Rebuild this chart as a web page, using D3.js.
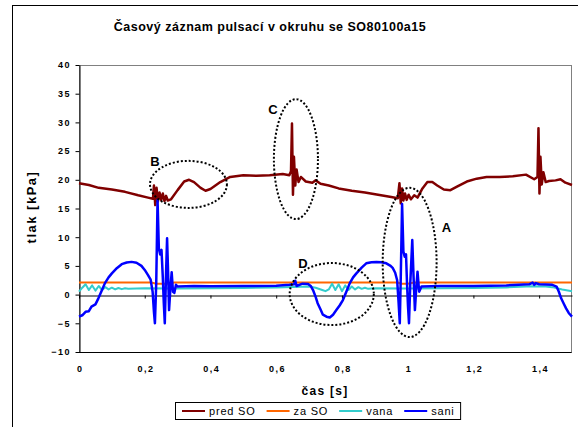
<!DOCTYPE html>
<html>
<head>
<meta charset="utf-8">
<script src="https://cdn.jsdelivr.net/npm/d3@7"></script>
<style>
  body { margin: 0; background: #fff; }
  text { font-family: Arial, "Liberation Sans", sans-serif; }
</style>
</head>
<body>
<div id="chart"></div>
<script>
// Time series (time in s, pressure in kPa)
const predT = [0, 0.03, 0.06, 0.1, 0.14, 0.18, 0.21, 0.225, 0.228, 0.232, 0.236, 0.24, 0.245, 0.25, 0.255, 0.26, 0.265, 0.27, 0.28, 0.3, 0.32, 0.335, 0.35, 0.37, 0.385, 0.4, 0.43, 0.46, 0.5, 0.54, 0.58, 0.62, 0.64, 0.645, 0.648, 0.651, 0.654, 0.658, 0.662, 0.668, 0.675, 0.69, 0.71, 0.72, 0.735, 0.76, 0.79, 0.83, 0.87, 0.91, 0.95, 0.97, 0.975, 0.979, 0.983, 0.987, 0.992, 0.997, 1.003, 1.01, 1.02, 1.03, 1.045, 1.06, 1.075, 1.09, 1.11, 1.13, 1.15, 1.18, 1.21, 1.24, 1.28, 1.32, 1.36, 1.385, 1.395, 1.398, 1.401, 1.404, 1.408, 1.413, 1.42, 1.43, 1.45, 1.465, 1.48, 1.5];
const predV = [19.4, 19.1, 18.6, 18.3, 17.9, 17.3, 16.9, 16.7, 19.0, 15.6, 18.6, 16.2, 17.8, 16.5, 17.6, 16.3, 17.2, 16.4, 16.6, 18.2, 19.7, 20.0, 19.6, 18.6, 18.1, 18.4, 19.6, 20.5, 20.8, 20.7, 20.8, 21.0, 20.8, 21.5, 29.8, 17.4, 24.0, 19.0, 21.8, 19.6, 20.5, 19.7, 19.5, 19.9, 19.3, 19.0, 18.5, 18.1, 17.8, 17.4, 17.0, 16.8, 19.4, 15.9, 18.5, 16.4, 17.6, 16.5, 17.4, 16.6, 17.3, 16.9, 18.5, 19.6, 19.6, 19.0, 18.3, 18.2, 18.8, 19.7, 20.2, 20.5, 20.5, 20.6, 20.9, 20.1, 20.5, 29.0, 17.6, 24.0, 19.2, 21.3, 19.6, 19.8, 19.9, 20.1, 19.5, 19.1];

const zaT = [0, 0.22, 0.235, 0.27, 0.29, 0.97, 0.98, 1.0, 1.02, 1.5];
const zaV = [2.1, 2.1, 1.9, 1.9, 2.1, 2.1, 1.9, 1.9, 2.1, 2.1];

const vanaT = [0, 0.01, 0.02, 0.03, 0.04, 0.05, 0.06, 0.07, 0.08, 0.09, 0.1, 0.11, 0.12, 0.13, 0.14, 0.15, 0.2, 0.3, 0.4, 0.5, 0.6, 0.7, 0.72, 0.74, 0.75, 0.76, 0.77, 0.78, 0.79, 0.8, 0.81, 0.82, 0.83, 0.84, 0.85, 0.86, 0.87, 0.88, 0.9, 1.0, 1.1, 1.2, 1.3, 1.38, 1.42, 1.44, 1.47, 1.5];
const vanaV = [0.5, 1.2, 1.8, 0.8, 1.6, 0.7, 1.5, 0.8, 1.3, 0.9, 1.2, 0.9, 1.15, 0.95, 1.1, 1.0, 1.1, 1.05, 1.1, 1.15, 1.25, 1.4, 1.2, 0.8, 0.6, 0.9, 1.9, 0.8, 1.8, 0.6, 1.6, 0.8, 1.4, 0.9, 1.3, 1.0, 1.2, 1.0, 1.1, 1.05, 1.1, 1.15, 1.25, 1.45, 1.4, 1.3, 0.9, 0.6];

const saniT = [0, 0.01, 0.02, 0.03, 0.038, 0.05, 0.059, 0.07, 0.079, 0.09, 0.1, 0.115, 0.13, 0.145, 0.16, 0.175, 0.19, 0.2, 0.21, 0.218, 0.224, 0.228, 0.231, 0.235, 0.239, 0.243, 0.247, 0.251, 0.255, 0.258, 0.261, 0.265, 0.268, 0.271, 0.274, 0.278, 0.282, 0.286, 0.29, 0.295, 0.3, 0.35, 0.4, 0.5, 0.6, 0.64, 0.655, 0.658, 0.662, 0.68, 0.697, 0.705, 0.712, 0.72, 0.726, 0.735, 0.742, 0.753, 0.763, 0.773, 0.783, 0.793, 0.803, 0.814, 0.824, 0.834, 0.844, 0.86, 0.874, 0.89, 0.905, 0.92, 0.935, 0.948, 0.955, 0.962, 0.968, 0.972, 0.976, 0.979, 0.983, 0.987, 0.991, 0.995, 0.998, 1.001, 1.004, 1.008, 1.014, 1.018, 1.022, 1.026, 1.03, 1.035, 1.042, 1.1, 1.2, 1.3, 1.37, 1.38, 1.385, 1.39, 1.4, 1.44, 1.453, 1.46, 1.467, 1.475, 1.482, 1.49, 1.5];
const saniV = [-3.85, -3.6, -3.0, -2.9, -2.1, -1.7, -0.65, 0.8, 2.0, 3.0, 3.7, 4.6, 5.3, 5.6, 5.7, 5.55, 5.0, 4.3, 3.4, 2.6, 0.5, -3.0, -5.0, 2.0, 16.5, 8.0, 7.0, 7.8, 3.0, -1.5, -5.0, 4.0, 9.8, 4.0, -2.7, 1.0, 3.9, 0.5, 0.3, 1.7, 1.4, 1.5, 1.45, 1.5, 1.55, 1.7, 1.8, 2.4, 1.5, 1.9, 1.85, 1.5, 0.8, -0.4, -1.5, -2.6, -3.5, -3.85, -4.0, -3.5, -2.7, -1.9, -0.95, 0.6, 2.0, 3.0, 3.7, 4.7, 5.45, 5.65, 5.7, 5.65, 5.45, 5.0, 4.6, 3.8, 2.5, -1.0, -5.0, 3.0, 15.8, 7.5, 6.6, 7.0, 2.0, -2.0, -5.0, 2.0, 9.5, 3.0, -2.7, 1.0, 4.0, 0.5, 1.4, 1.5, 1.5, 1.6, 1.8, 2.1, 1.7, 2.0, 1.8, 1.7, 1.4, 0.5, -0.65, -1.6, -2.4, -3.2, -3.85];

const seriesNames = ["pred SO", "za SO", "vana", "sani"];
const seriesColors = ["#800000", "#FF6600", "#33CCCC", "#0000FF"];
const xTicks = [0, 0.2, 0.4, 0.6, 0.8, 1, 1.2, 1.4];
const yTicks = [-10, -5, 0, 5, 10, 15, 20, 25, 30, 35, 40];

// Annotations: label, centre (t, kPa), radii (s, kPa), label position
const noteLabels = ["B", "C", "A", "D"];
const noteCenters = [[0.333, 19.2], [0.66, 23.6], [1.006, 5.6], [0.769, 0.1]];
const noteRadii = [[0.117, 4.1], [0.067, 10.45], [0.082, 13.0], [0.128, 5.4]];
const noteTextPos = [[0.231, 23.3], [0.59, 32.3], [1.118, 11.8], [0.681, 5.5]];

const W = 578, H = 427;
const margin = {top: 65, right: 6, bottom: 75, left: 79};
const width = W - margin.left - margin.right;
const height = H - margin.top - margin.bottom;

const svg = d3.select("#chart")
    .append("svg")
    .attr("width", W)
    .attr("height", H);

// Outer chart border
svg.append("rect")
    .attr("x", 12.5).attr("y", 5.5)
    .attr("width", 700).attr("height", 600)
    .attr("fill", "none")
    .attr("stroke", "#000");

// Title
svg.append("text")
    .attr("x", 270)
    .attr("y", 31)
    .attr("text-anchor", "middle")
    .style("font-size", "12.5px")
    .style("font-weight", "bold")
    .style("letter-spacing", "0.5px")
    .text("Časový záznam pulsací v okruhu se SO80100a15");

const g = svg.append("g")
    .attr("transform", "translate(" + margin.left + "," + margin.top + ")");

const x = d3.scaleLinear().domain([0, 1.5]).range([0, width]);
const y = d3.scaleLinear().domain([-10, 40]).range([height, 0]);

// Plot area frame
g.append("rect")
    .attr("x", 0.5).attr("y", 0.5)
    .attr("width", width - 1).attr("height", height)
    .attr("fill", "none")
    .attr("stroke", "#808080");
g.append("line")
    .attr("x1", 0).attr("x2", width - 0.5)
    .attr("y1", height + 0.5).attr("y2", height + 0.5)
    .attr("stroke", "#000");

// Y axis
const yAxis = g.append("g")
    .attr("transform", "translate(0.5,0)")
    .call(d3.axisLeft(y).tickValues(yTicks).tickSize(4).tickSizeOuter(0).tickPadding(6));
yAxis.select(".domain").attr("stroke", "#000");
yAxis.selectAll("text")
    .style("font-size", "9px")
    .style("font-weight", "bold")
    .style("letter-spacing", "1.5px")
    .attr("dx", "1.5px");

// X axis on the zero line, labels at the bottom of the plot
const xAxis = g.append("g")
    .attr("transform", "translate(0," + (Math.round(y(0)) + 0.5) + ")")
    .call(d3.axisBottom(x).tickValues(xTicks).tickSize(3).tickSizeOuter(0)
        .tickFormat(d => String(d).replace(".", ",")));
xAxis.select(".domain").attr("stroke", "#000");
xAxis.selectAll("text")
    .attr("y", height - y(0) + 13)
    .style("font-size", "9px")
    .style("font-weight", "bold")
    .style("letter-spacing", "1.5px")
    .attr("dx", "0.75px");

// Axis titles
svg.append("text")
    .attr("transform", "translate(36," + 207 + ") rotate(-90)")
    .attr("text-anchor", "middle")
    .style("font-size", "13px")
    .style("font-weight", "bold")
    .style("letter-spacing", "1.5px")
    .text("tlak [kPa]");

svg.append("text")
    .attr("x", 325)
    .attr("y", 395)
    .attr("text-anchor", "middle")
    .style("font-size", "12px")
    .style("font-weight", "bold")
    .style("letter-spacing", "1.3px")
    .text("čas [s]");

// Series lines
const line = d3.line()
    .x(d => x(d[0]))
    .y(d => y(d[1]));

const series = [
    d3.zip(predT, predV),
    d3.zip(zaT, zaV),
    d3.zip(vanaT, vanaV),
    d3.zip(saniT, saniV)
];
const widths = [2.5, 2, 2, 2.5];

g.selectAll(".series")
    .data(series)
    .enter().append("path")
    .attr("class", "series")
    .attr("d", line)
    .attr("fill", "none")
    .attr("stroke", (d, i) => seriesColors[i])
    .attr("stroke-width", (d, i) => widths[i])
    .attr("stroke-linejoin", "round");

// Dotted ellipses with letters
g.selectAll(".note")
    .data(noteCenters)
    .enter().append("ellipse")
    .attr("class", "note")
    .attr("cx", d => x(d[0]))
    .attr("cy", d => y(d[1]))
    .attr("rx", (d, i) => x(noteRadii[i][0]) - x(0))
    .attr("ry", (d, i) => y(0) - y(noteRadii[i][1]))
    .attr("fill", "none")
    .attr("stroke", "#000")
    .attr("stroke-width", 2)
    .attr("stroke-dasharray", "2,2");

g.selectAll(".noteText")
    .data(noteTextPos)
    .enter().append("text")
    .attr("class", "noteText")
    .attr("x", d => x(d[0]))
    .attr("y", d => y(d[1]))
    .attr("dy", "0.36em")
    .attr("text-anchor", "middle")
    .style("font-size", "13px")
    .style("font-weight", "bold")
    .text((d, i) => noteLabels[i]);

// Legend
const legend = svg.append("g");
const legendBox = legend.append("rect")
    .attr("x", 175.5).attr("y", 402.5)
    .attr("height", 17)
    .attr("fill", "#fff")
    .attr("stroke", "#000");
let lx = 182;
seriesNames.forEach((name, i) => {
    legend.append("line")
        .attr("x1", lx).attr("x2", lx + 23)
        .attr("y1", 411).attr("y2", 411)
        .attr("stroke", seriesColors[i])
        .attr("stroke-width", 2);
    const t = legend.append("text")
        .attr("x", lx + 27)
        .attr("y", 415)
        .style("font-size", "11px")
        .style("letter-spacing", "0.8px")
        .text(name);
    lx += 27 + t.node().getComputedTextLength() + 11;
});
legendBox.attr("width", lx - 175.5 - 5);
</script>
</body>
</html>
